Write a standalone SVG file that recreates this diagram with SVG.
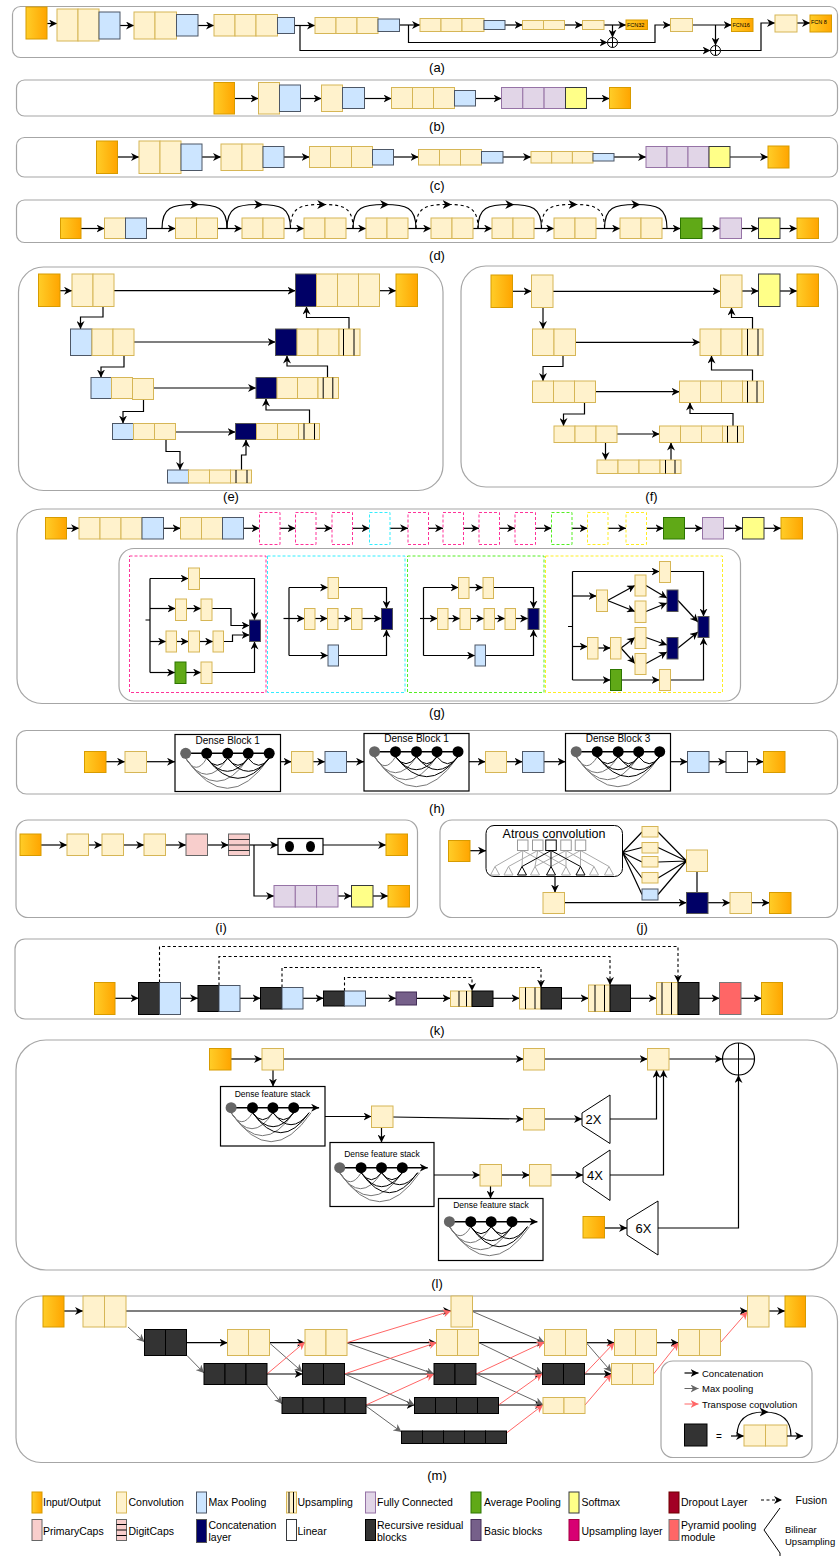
<svg xmlns="http://www.w3.org/2000/svg" xmlns:xlink="http://www.w3.org/1999/xlink" width="839" height="1556" viewBox="0 0 839 1556">
<defs>
<linearGradient id="go" x1="0" y1="0" x2="1" y2="0"><stop offset="0" stop-color="#FFCD28"/><stop offset="1" stop-color="#FFA500"/></linearGradient>
<marker id="ab" viewBox="0 0 10 10" refX="10" refY="5" markerWidth="8" markerHeight="8" markerUnits="userSpaceOnUse" orient="auto"><path d="M0,0L10,5L0,10L3,5Z" fill="#000"/></marker>
<marker id="ag" viewBox="0 0 10 10" refX="10" refY="5" markerWidth="8" markerHeight="8" markerUnits="userSpaceOnUse" orient="auto"><path d="M0,0L10,5L0,10L3,5Z" fill="#666"/></marker>
<marker id="ar" viewBox="0 0 10 10" refX="10" refY="5" markerWidth="8" markerHeight="8" markerUnits="userSpaceOnUse" orient="auto"><path d="M0,0L10,5L0,10L3,5Z" fill="#FF6666"/></marker>
<marker id="am" viewBox="0 0 10 10" refX="5" refY="5" markerWidth="9" markerHeight="9" markerUnits="userSpaceOnUse" orient="auto"><path d="M0,0L10,5L0,10L3,5Z" fill="#000"/></marker>
<style>
.io{fill:url(#go);stroke:#D79B00}
.cv{fill:#FFF2CC;stroke:#D6B656}
.mp{fill:#CCE5FF;stroke:#4D5766}
.fc{fill:#E1D5E7;stroke:#9673A6}
.ap{fill:#60A917;stroke:#2D7600}
.sm{fill:#FFFF88;stroke:#36393D}
.cc{fill:#000066;stroke:#555}
.bk{fill:#333;stroke:#000}
.ln{fill:#fff;stroke:#36393D}
.pc{fill:#F8CECC;stroke:#666}
.bb{fill:#76608A;stroke:#432D57}
.ul{fill:#D80073;stroke:#A50040}
.pp{fill:#FF6666;stroke:#777}
.dr{fill:#A20025;stroke:#6F0000}
.pn{fill:#fff;stroke:#A6A6A6;stroke-width:1.2}
.e{fill:none;stroke:#000;stroke-width:1.2;marker-end:url(#ab)}
.ed{fill:none;stroke:#000;stroke-width:1.1;stroke-dasharray:3,2.5;marker-end:url(#ab)}
.eg{fill:none;stroke:#666;stroke-width:1;marker-end:url(#ag)}
.er{fill:none;stroke:#FF6666;stroke-width:1;marker-end:url(#ar)}
.l{fill:none;stroke:#000;stroke-width:1.2}
.arc{fill:none;stroke:#000;stroke-width:1.2;marker-mid:url(#am)}
.arcd{fill:none;stroke:#000;stroke-width:1.1;stroke-dasharray:3,3;marker-mid:url(#am)}
.up{stroke:#000;stroke-width:1}
.t{font-family:"Liberation Sans",Arial,sans-serif;fill:#000}
.lab{font-family:"Liberation Sans",Arial,sans-serif;font-size:13px;text-anchor:middle;fill:#000}
.lg{font-family:"Liberation Sans",Arial,sans-serif;font-size:10.5px;fill:#000}
.bx{fill:#fff;stroke:#000;stroke-width:1.2}
.dp{fill:#fff;stroke:#FF3399;stroke-dasharray:3,2}
.dcy{fill:#fff;stroke:#33EEFF;stroke-dasharray:3,2}
.dgn{fill:#fff;stroke:#55EE22;stroke-dasharray:3,2}
.dye{fill:#fff;stroke:#FFEE22;stroke-dasharray:3,2}
.ga{fill:none;stroke:#777;stroke-width:1}
.ba{fill:none;stroke:#000;stroke-width:1}
</style>
<g id="dense5">
<path class="ga" d="M0,5Q10.5,23 21,5M0,5Q21,37 42,5M0,5Q31.25,51 62.5,5M0,5Q41.75,65 83.5,5"/>
<path class="ba" d="M21,5Q31.5,19 42,5M42,5Q52.25,19 62.5,5M62.5,5Q73,19 83.5,5M21,5Q41.75,31 62.5,5M42,5Q62.75,31 83.5,5M21,5Q52.25,45 83.5,5"/>
<path d="M0,0H83.5" stroke="#000" stroke-width="1.5"/>
<circle cx="0" cy="0" r="5.5" fill="#666"/><circle cx="21" cy="0" r="5.5"/><circle cx="42" cy="0" r="5.5"/><circle cx="62.5" cy="0" r="5.5"/><circle cx="83.5" cy="0" r="5.5"/>
</g>
<g id="dense4">
<path class="ga" d="M0,5Q10.7,23 21.4,5M0,5Q20.9,37 41.8,5M0,5Q31.3,51 62.6,5M0,5Q40,63 80,5"/>
<path class="ba" d="M21.4,5Q31.6,19 41.8,5M41.8,5Q52.2,19 62.6,5M21.4,5Q42,33 62.6,5M41.8,5Q59.9,29 78,5M21.4,5Q49.7,45 78,5"/>
<path d="M0,0H88" stroke="#000" stroke-width="1.5" marker-end="url(#ab)"/>
<circle cx="0" cy="0" r="5.5" fill="#666"/><circle cx="21.4" cy="0" r="5.5"/><circle cx="41.8" cy="0" r="5.5"/><circle cx="62.6" cy="0" r="5.5"/>
</g>
</defs>
<rect width="839" height="1556" fill="#fff"/>

<!-- (a) -->
<g id="panel-a">
<rect class="pn" x="12.5" y="6.5" width="825" height="51" rx="8"/>
<g id="a-edges">
<path class="e" d="M47,23.5H57"/><path class="e" d="M120,25.5H134"/><path class="e" d="M198,25.5H214"/><path class="e" d="M294.5,25.5H315"/>
<path class="e" d="M300,25.5V50.5H710.5"/><path class="e" d="M399.5,25H420"/><path class="e" d="M408.5,25V42.5H607.5"/>
<path class="e" d="M505,25H522.5"/><path class="e" d="M564.5,25H582.5"/><path class="e" d="M604,25H626"/>
<path class="e" d="M612.5,25V37.5"/><path class="e" d="M617.5,42.5H655V25H670.5"/>
<path class="e" d="M692.5,25H731.5"/><path class="e" d="M715.5,25V45.5"/><path class="e" d="M720.5,50.5H761V23H775"/><path class="e" d="M797,23H810"/>
</g>
<g id="a-in"><rect class="io" x="26" y="7" width="21" height="32"/></g>
<g id="a-c1"><rect class="cv" x="57" y="9" width="21" height="32"/><rect class="cv" x="78" y="9" width="21" height="32"/></g>
<g id="a-p1"><rect class="mp" x="99" y="12" width="21" height="27"/></g>
<g id="a-c2"><rect class="cv" x="134" y="12" width="21" height="27"/><rect class="cv" x="155" y="12" width="21.5" height="27"/></g>
<g id="a-p2"><rect class="mp" x="176.5" y="14.5" width="21.5" height="21.5"/></g>
<g id="a-c3"><rect class="cv" x="214" y="14.5" width="21" height="21.5"/><rect class="cv" x="235" y="14.5" width="21" height="21.5"/><rect class="cv" x="256" y="14.5" width="21.5" height="21.5"/></g>
<g id="a-p3"><rect class="mp" x="277.5" y="17.5" width="17" height="16"/></g>
<g id="a-c4"><rect class="cv" x="315" y="17.5" width="21" height="16"/><rect class="cv" x="336" y="17.5" width="21" height="16"/><rect class="cv" x="357" y="17.5" width="21" height="16"/></g>
<g id="a-p4"><rect class="mp" x="378" y="19" width="21.5" height="12.5"/></g>
<g id="a-c5"><rect class="cv" x="420" y="18.5" width="21" height="13"/><rect class="cv" x="441" y="18.5" width="21" height="13"/><rect class="cv" x="462" y="18.5" width="22" height="13"/></g>
<g id="a-p5"><rect class="mp" x="484" y="20.5" width="21" height="9"/></g>
<g id="a-c6"><rect class="cv" x="522.5" y="20.5" width="21" height="9"/><rect class="cv" x="543.5" y="20.5" width="21" height="9"/></g>
<g id="a-c7"><rect class="cv" x="582.5" y="20.5" width="21.5" height="9"/></g>
<g id="a-sum1"><circle cx="612.5" cy="42.5" r="5" fill="#fff" stroke="#000"/><path d="M607.5,42.5H617.5M612.5,37.5V47.5" stroke="#000"/></g>
<g id="a-f32"><rect class="io" x="626" y="20" width="21.5" height="9.5"/><text class="t" x="627" y="27" font-size="5.5">FCN32</text></g>
<g id="a-c8"><rect class="cv" x="670.5" y="18.5" width="22" height="13"/></g>
<g id="a-sum2"><circle cx="715.5" cy="50.5" r="5" fill="#fff" stroke="#000"/><path d="M710.5,50.5H720.5M715.5,45.5V55.5" stroke="#000"/></g>
<g id="a-f16"><rect class="io" x="731.5" y="18.5" width="21.5" height="13"/><text class="t" x="732.5" y="27" font-size="5.5">FCN16</text></g>
<g id="a-c9"><rect class="cv" x="775" y="15" width="22" height="17"/></g>
<g id="a-f8"><rect class="io" x="810" y="15" width="21.5" height="17"/><text class="t" x="811" y="23.5" font-size="5.5">FCN 8</text></g>
<text class="lab" x="437" y="72">(a)</text>
</g>

<!-- (b) -->
<g id="panel-b">
<rect class="pn" x="16.5" y="80" width="821" height="36" rx="8"/>
<g id="b-edges">
<path class="e" d="M234.5,98.5H258.5"/><path class="e" d="M300.5,98.5H321.5"/><path class="e" d="M364.5,98.5H391.5"/><path class="e" d="M475.5,98.5H501.5"/><path class="e" d="M586.5,98.5H609.5"/>
</g>
<g id="b-in"><rect class="io" x="214" y="82.5" width="20.5" height="31.5"/></g>
<g id="b-c1"><rect class="cv" x="258.5" y="82.5" width="21" height="31.5"/></g>
<g id="b-p1"><rect class="mp" x="279.5" y="85" width="21" height="26.5"/></g>
<g id="b-c2"><rect class="cv" x="321.5" y="85" width="21" height="26.5"/></g>
<g id="b-p2"><rect class="mp" x="342.5" y="87.5" width="22" height="21"/></g>
<g id="b-c3"><rect class="cv" x="391.5" y="87.5" width="21" height="21"/><rect class="cv" x="412.5" y="87.5" width="21" height="21"/><rect class="cv" x="433.5" y="87.5" width="21" height="21"/></g>
<g id="b-p3"><rect class="mp" x="454.5" y="90.5" width="21" height="15.5"/></g>
<g id="b-fc"><rect class="fc" x="501.5" y="87.5" width="21.3" height="21"/><rect class="fc" x="522.8" y="87.5" width="21.3" height="21"/><rect class="fc" x="544.1" y="87.5" width="21.4" height="21"/></g>
<g id="b-sm"><rect class="sm" x="565.5" y="87.5" width="21" height="21"/></g>
<g id="b-out"><rect class="io" x="609.5" y="87.5" width="21" height="21"/></g>
<text class="lab" x="437" y="131">(b)</text>
</g>

<!-- (c) -->
<g id="panel-c">
<rect class="pn" x="16.5" y="137.5" width="821" height="39.5" rx="8"/>
<g id="c-edges">
<path class="e" d="M117.5,157H139"/><path class="e" d="M202,157H221"/><path class="e" d="M284,157H309.5"/><path class="e" d="M393.5,157H418.5"/><path class="e" d="M503,157H531"/><path class="e" d="M614,157H646"/><path class="e" d="M730,157H768"/>
</g>
<g id="c-in"><rect class="io" x="96.5" y="141" width="21" height="32.5"/></g>
<g id="c-c1"><rect class="cv" x="139" y="141" width="21" height="32.5"/><rect class="cv" x="160" y="141" width="21" height="32.5"/></g>
<g id="c-p1"><rect class="mp" x="181" y="144" width="21" height="26.5"/></g>
<g id="c-c2"><rect class="cv" x="221" y="144" width="21" height="26.5"/><rect class="cv" x="242" y="144" width="21" height="26.5"/></g>
<g id="c-p2"><rect class="mp" x="263" y="146.5" width="21" height="21"/></g>
<g id="c-c3"><rect class="cv" x="309.5" y="146.5" width="21" height="21"/><rect class="cv" x="330.5" y="146.5" width="21" height="21"/><rect class="cv" x="351.5" y="146.5" width="21" height="21"/></g>
<g id="c-p3"><rect class="mp" x="372.5" y="149.5" width="21" height="15.5"/></g>
<g id="c-c4"><rect class="cv" x="418.5" y="149.5" width="21" height="15.5"/><rect class="cv" x="439.5" y="149.5" width="21" height="15.5"/><rect class="cv" x="460.5" y="149.5" width="21" height="15.5"/></g>
<g id="c-p4"><rect class="mp" x="481.5" y="151.5" width="21.5" height="11.5"/></g>
<g id="c-c5"><rect class="cv" x="531" y="151.5" width="20.7" height="11.5"/><rect class="cv" x="551.7" y="151.5" width="20.7" height="11.5"/><rect class="cv" x="572.4" y="151.5" width="20.6" height="11.5"/></g>
<g id="c-p5"><rect class="mp" x="593" y="153.5" width="21" height="7.5"/></g>
<g id="c-fc"><rect class="fc" x="646" y="146.5" width="21" height="21"/><rect class="fc" x="667" y="146.5" width="21" height="21"/><rect class="fc" x="688" y="146.5" width="21" height="21"/></g>
<g id="c-sm"><rect class="sm" x="709" y="146.5" width="21" height="21"/></g>
<g id="c-out"><rect class="io" x="768" y="146" width="21" height="22"/></g>
<text class="lab" x="437" y="190">(c)</text>
</g>

<!-- (d) -->
<g id="panel-d">
<rect class="pn" x="16.5" y="200" width="821" height="42.5" rx="8"/>
<g id="d-edges">
<path class="e" d="M81,228.5H104.5"/><path class="e" d="M146.5,228.5H175.5"/><path class="e" d="M217.5,228.5H242"/><path class="e" d="M284,228.5H304"/><path class="e" d="M346,228.5H366"/><path class="e" d="M408,228.5H431"/><path class="e" d="M473,228.5H492"/><path class="e" d="M534,228.5H554"/><path class="e" d="M596,228.5H620"/><path class="e" d="M662,228.5H680.5"/><path class="e" d="M702,228.5H720"/><path class="e" d="M741.5,228.5H758.5"/><path class="e" d="M780,228.5H797"/>
<path class="arc" d="M162,228.5C162,207 172,204.5 194.5,204.5C217,204.5 227,207 227,228.5"/>
<path class="arc" d="M227,228.5C227,207 237,204.5 258.75,204.5C280.5,204.5 290.5,207 290.5,228.5"/>
<path class="arcd" d="M290.5,228.5C290.5,207 300.5,204.5 321.75,204.5C343,204.5 353,207 353,228.5"/>
<path class="arc" d="M353,228.5C353,207 363,204.5 384.5,204.5C406,204.5 416,207 416,228.5"/>
<path class="arcd" d="M416,228.5C416,207 426,204.5 447,204.5C468,204.5 478,207 478,228.5"/>
<path class="arc" d="M478,228.5C478,207 488,204.5 509.75,204.5C531.5,204.5 541.5,207 541.5,228.5"/>
<path class="arcd" d="M541.5,228.5C541.5,207 551.5,204.5 573,204.5C594.5,204.5 604.5,207 604.5,228.5"/>
<path class="arc" d="M604.5,228.5C604.5,207 614.5,204.5 635.75,204.5C657,204.5 667,207 667,228.5"/>
</g>
<g id="d-in"><rect class="io" x="60.5" y="218" width="20.5" height="20.5"/></g>
<g id="d-c0"><rect class="cv" x="104.5" y="218" width="21" height="20.5"/></g>
<g id="d-p0"><rect class="mp" x="125.5" y="218" width="21" height="20.5"/></g>
<g id="d-b1"><rect class="cv" x="175.5" y="218" width="21" height="20.5"/><rect class="cv" x="196.5" y="218" width="21" height="20.5"/></g>
<g id="d-b2"><rect class="cv" x="242" y="218" width="21" height="20.5"/><rect class="cv" x="263" y="218" width="21" height="20.5"/></g>
<g id="d-b3"><rect class="cv" x="304" y="218" width="21" height="20.5"/><rect class="cv" x="325" y="218" width="21" height="20.5"/></g>
<g id="d-b4"><rect class="cv" x="366" y="218" width="21" height="20.5"/><rect class="cv" x="387" y="218" width="21" height="20.5"/></g>
<g id="d-b5"><rect class="cv" x="431" y="218" width="21" height="20.5"/><rect class="cv" x="452" y="218" width="21" height="20.5"/></g>
<g id="d-b6"><rect class="cv" x="492" y="218" width="21" height="20.5"/><rect class="cv" x="513" y="218" width="21" height="20.5"/></g>
<g id="d-b7"><rect class="cv" x="554" y="218" width="21" height="20.5"/><rect class="cv" x="575" y="218" width="21" height="20.5"/></g>
<g id="d-b8"><rect class="cv" x="620" y="218" width="21" height="20.5"/><rect class="cv" x="641" y="218" width="21" height="20.5"/></g>
<g id="d-ap"><rect class="ap" x="680.5" y="218" width="21.5" height="20.5"/></g>
<g id="d-fc"><rect class="fc" x="720" y="218" width="21.5" height="20.5"/></g>
<g id="d-sm"><rect class="sm" x="758.5" y="218" width="21.5" height="20.5"/></g>
<g id="d-out"><rect class="io" x="797" y="218" width="21.5" height="20.5"/></g>
<text class="lab" x="437" y="260">(d)</text>
</g>

<!-- (e) -->
<g id="panel-e">
<rect class="pn" x="18.5" y="267" width="424.5" height="223.5" rx="25"/>
<g id="e-edges">
<path class="e" d="M60,290.7H72"/><path class="e" d="M114,290.7H295.5"/><path class="e" d="M379.5,290.7H396"/>
<path class="e" d="M103,306.5V317H80.5V329"/><path class="e" d="M134,342H275.5"/><path class="e" d="M349,329V317.5H306.5V306.5"/>
<path class="e" d="M124,355.5V367H101V377.5"/><path class="e" d="M153.5,388H256"/><path class="e" d="M327.5,377.5V366H287V355.5"/>
<path class="e" d="M143.5,398.5V411.5H123V423.5"/><path class="e" d="M175.5,432H235.5"/><path class="e" d="M309.5,423.5V410H266V398.5"/>
<path class="e" d="M166,439.5V451.5H180V470"/><path class="e" d="M241.5,470V455H246V439.5"/>
</g>
<g id="e-in"><rect class="io" x="38.5" y="274" width="21.5" height="32.5"/></g>
<g id="e-c1"><rect class="cv" x="72" y="274" width="21" height="32.5"/><rect class="cv" x="93" y="274" width="21" height="32.5"/></g>
<g id="e-cc1"><rect class="cc" x="295.5" y="274" width="21" height="32.5"/></g>
<g id="e-d1"><rect class="cv" x="316.5" y="274" width="21" height="32.5"/><rect class="cv" x="337.5" y="274" width="21" height="32.5"/><rect class="cv" x="358.5" y="274" width="21" height="32.5"/></g>
<g id="e-out"><rect class="io" x="396" y="274" width="21.5" height="32.5"/></g>
<g id="e-p2"><rect class="mp" x="70.5" y="329" width="21.5" height="26.5"/></g>
<g id="e-c2"><rect class="cv" x="92" y="329" width="21" height="26.5"/><rect class="cv" x="113" y="329" width="21" height="26.5"/></g>
<g id="e-cc2"><rect class="cc" x="275.5" y="329" width="21.5" height="26.5"/></g>
<g id="e-u2"><rect class="cv" x="297" y="329" width="21" height="26.5"/><rect class="cv" x="318" y="329" width="21" height="26.5"/><rect class="cv" x="339" y="329" width="21" height="26.5"/><path class="up" d="M343.5,329V355.5M354,329V355.5"/></g>
<g id="e-p3"><rect class="mp" x="91" y="377.5" width="20.5" height="21"/></g>
<g id="e-c3"><rect class="cv" x="111.5" y="377.5" width="21" height="21"/><rect class="cv" x="132.5" y="378.5" width="21" height="21"/></g>
<g id="e-cc3"><rect class="cc" x="256" y="377.5" width="21" height="21"/></g>
<g id="e-u3"><rect class="cv" x="277" y="377.5" width="20.5" height="21"/><rect class="cv" x="297.5" y="377.5" width="20.5" height="21"/><rect class="cv" x="318" y="377.5" width="20.5" height="21"/><path class="up" d="M323.2,377.5V398.5M332.8,377.5V398.5"/></g>
<g id="e-p4"><rect class="mp" x="112.5" y="423.5" width="21" height="16"/></g>
<g id="e-c4"><rect class="cv" x="133.5" y="423.5" width="21" height="16"/><rect class="cv" x="154.5" y="423.5" width="21" height="16"/></g>
<g id="e-cc4"><rect class="cc" x="235.5" y="423.5" width="21" height="16"/></g>
<g id="e-u4"><rect class="cv" x="256.5" y="423.5" width="21" height="16"/><rect class="cv" x="277.5" y="423.5" width="21" height="16"/><rect class="cv" x="298.5" y="423.5" width="21" height="16"/><path class="up" d="M304,423.5V439.5M314.5,423.5V439.5"/></g>
<g id="e-p5"><rect class="mp" x="167.5" y="470" width="21" height="13"/></g>
<g id="e-u5"><rect class="cv" x="188.5" y="470" width="21" height="13"/><rect class="cv" x="209.5" y="470" width="21" height="13"/><rect class="cv" x="230.5" y="470" width="21" height="13"/><path class="up" d="M236,470V483M247,470V483"/></g>
<text class="lab" x="231" y="501">(e)</text>
</g>

<!-- (f) -->
<g id="panel-f">
<rect class="pn" x="461" y="266" width="376.5" height="221" rx="25"/>
<g id="f-edges">
<path class="e" d="M512.5,291.3H531.5"/><path class="e" d="M553,291.3H720.5"/><path class="e" d="M742,291H758.5"/><path class="e" d="M780,291H797"/>
<path class="e" d="M543,307.5V329"/><path class="e" d="M575.5,342.3H700"/><path class="e" d="M752.5,329V317.5H731.5V307.5"/>
<path class="e" d="M563,355.5V366.5H543V381"/><path class="e" d="M595.5,391.7H679.5"/><path class="e" d="M752.5,381V370H711.5V355.5"/>
<path class="e" d="M584.5,402.5V414H563.5V426"/><path class="e" d="M617,434H659.5"/><path class="e" d="M733,426V413.5H690V402.5"/>
<path class="e" d="M605.5,442.5V460"/><path class="e" d="M671,460V442.5"/>
</g>
<g id="f-in"><rect class="io" x="491" y="275" width="21.5" height="32.5"/></g>
<g id="f-c1"><rect class="cv" x="531.5" y="275" width="21.5" height="32.5"/></g>
<g id="f-d1"><rect class="cv" x="720.5" y="275" width="21.5" height="32.5"/></g>
<g id="f-sm"><rect class="sm" x="758.5" y="274" width="21.5" height="32.5"/></g>
<g id="f-out"><rect class="io" x="797" y="274" width="21.5" height="32.5"/></g>
<g id="f-c2"><rect class="cv" x="532.5" y="329" width="21.5" height="26.5"/><rect class="cv" x="554" y="329" width="21.5" height="26.5"/></g>
<g id="f-u2"><rect class="cv" x="700" y="329" width="21" height="26.5"/><rect class="cv" x="721" y="329" width="21" height="26.5"/><rect class="cv" x="742" y="329" width="21" height="26.5"/><path class="up" d="M747.5,329V355.5M758,329V355.5"/></g>
<g id="f-c3"><rect class="cv" x="532.5" y="381" width="21" height="21.5"/><rect class="cv" x="553.5" y="381" width="21" height="21.5"/><rect class="cv" x="574.5" y="381" width="21" height="21.5"/></g>
<g id="f-u3"><rect class="cv" x="679.5" y="381" width="21" height="21.5"/><rect class="cv" x="700.5" y="381" width="21" height="21.5"/><rect class="cv" x="721.5" y="381" width="21" height="21.5"/><rect class="cv" x="742.5" y="381" width="21" height="21.5"/><path class="up" d="M747.5,381V402.5M757,381V402.5"/></g>
<g id="f-c4"><rect class="cv" x="554" y="426" width="21" height="16.5"/><rect class="cv" x="575" y="426" width="21" height="16.5"/><rect class="cv" x="596" y="426" width="21" height="16.5"/></g>
<g id="f-u4"><rect class="cv" x="659.5" y="426" width="21" height="16.5"/><rect class="cv" x="680.5" y="426" width="21" height="16.5"/><rect class="cv" x="701.5" y="426" width="21" height="16.5"/><rect class="cv" x="722.5" y="426" width="21" height="16.5"/><path class="up" d="M727.5,426V442.5M737.5,426V442.5"/></g>
<g id="f-u5"><rect class="cv" x="597" y="460" width="21" height="13.5"/><rect class="cv" x="618" y="460" width="21" height="13.5"/><rect class="cv" x="639" y="460" width="21" height="13.5"/><rect class="cv" x="660" y="460" width="21" height="13.5"/><path class="up" d="M665.5,460V473.5M675,460V473.5"/></g>
<text class="lab" x="651.5" y="501">(f)</text>
</g>

<!-- (g) -->
<g id="panel-g">
<rect class="pn" x="17" y="509" width="820.5" height="194.5" rx="25"/>
<g id="g-edges">
<path class="e" d="M66.5,528.3H79"/><path class="e" d="M163.5,528.3H180.5"/><path class="e" d="M243.5,528.3H259.5"/><path class="e" d="M280,528.3H295.5"/><path class="e" d="M316,528.3H332"/><path class="e" d="M352.5,528.3H369.5"/><path class="e" d="M390,528.3H408"/><path class="e" d="M428.5,528.3H443"/><path class="e" d="M463.5,528.3H479"/><path class="e" d="M499.5,528.3H515"/><path class="e" d="M535.5,528.3H551.5"/><path class="e" d="M572,528.3H587.5"/><path class="e" d="M608,528.3H626"/><path class="e" d="M646.5,528.3H663.5"/><path class="e" d="M684.5,528.3H702.5"/><path class="e" d="M723.5,528.3H742.5"/><path class="e" d="M764,528.3H781"/>
</g>
<g id="g-in"><rect class="io" x="45.5" y="517.5" width="21" height="21.5"/></g>
<g id="g-c1"><rect class="cv" x="79" y="517.5" width="21" height="21.5"/><rect class="cv" x="100" y="517.5" width="21" height="21.5"/><rect class="cv" x="121" y="517.5" width="21" height="21.5"/></g>
<g id="g-p1"><rect class="mp" x="142" y="517.5" width="21.5" height="21.5"/></g>
<g id="g-c2"><rect class="cv" x="180.5" y="517.5" width="21" height="21.5"/><rect class="cv" x="201.5" y="517.5" width="21" height="21.5"/></g>
<g id="g-p2"><rect class="mp" x="222.5" y="517.5" width="21" height="21.5"/></g>
<g id="g-m1"><rect class="dp" x="259.5" y="512.5" width="20.5" height="32"/></g>
<g id="g-m2"><rect class="dp" x="295.5" y="512.5" width="20.5" height="32"/></g>
<g id="g-m3"><rect class="dp" x="332" y="512.5" width="20.5" height="32"/></g>
<g id="g-m4"><rect class="dcy" x="369.5" y="512.5" width="20.5" height="32"/></g>
<g id="g-m5"><rect class="dp" x="408" y="512.5" width="20.5" height="32"/></g>
<g id="g-m6"><rect class="dp" x="443" y="512.5" width="20.5" height="32"/></g>
<g id="g-m7"><rect class="dp" x="479" y="512.5" width="20.5" height="32"/></g>
<g id="g-m8"><rect class="dp" x="515" y="512.5" width="20.5" height="32"/></g>
<g id="g-m9"><rect class="dgn" x="551.5" y="512.5" width="20.5" height="32"/></g>
<g id="g-m10"><rect class="dye" x="587.5" y="512.5" width="20.5" height="32"/></g>
<g id="g-m11"><rect class="dye" x="626" y="512.5" width="20.5" height="32"/></g>
<g id="g-ap"><rect class="ap" x="663.5" y="517.5" width="21" height="21.5"/></g>
<g id="g-fc"><rect class="fc" x="702.5" y="517.5" width="21" height="21.5"/></g>
<g id="g-sm"><rect class="sm" x="742.5" y="517.5" width="21.5" height="21.5"/></g>
<g id="g-out"><rect class="io" x="781" y="517.5" width="21.5" height="21.5"/></g>
<g id="g-inner">
<rect class="pn" x="119" y="548.5" width="621.5" height="152.5" rx="15"/>
<rect class="dp" x="129.5" y="556" width="136.5" height="136.5"/>
<rect class="dcy" x="267.5" y="556" width="137.5" height="136.5"/>
<rect class="dgn" x="407.5" y="556" width="136.5" height="136.5"/>
<rect class="dye" x="545.5" y="556" width="177" height="136.5"/>
</g>
<g id="g-blk-edges">
<path class="l" d="M145.5,620H150M150,578.5V672.5"/>
<path class="e" d="M150,578.5H188.5"/><path class="e" d="M199.5,578.5H254.5V620"/>
<path class="e" d="M150,608.5H175.5"/><path class="e" d="M186.5,608.5H201"/><path class="e" d="M212,608.5H231V625.5H249.5"/>
<path class="e" d="M150,641.5H166"/><path class="e" d="M176.5,641.5H188.5"/><path class="e" d="M199.5,641.5H213"/><path class="e" d="M223.5,641.5H232.5V635H249.5"/>
<path class="e" d="M150,672.5H175"/><path class="e" d="M186,672.5H201"/><path class="e" d="M212,672.5H254.5V641.5"/>
<path class="l" d="M289,587.5V655.5"/>
<path class="e" d="M283.5,618.5H304.5"/><path class="e" d="M315,618.5H327.5"/><path class="e" d="M338,618.5H351.5"/><path class="e" d="M362,618.5H381.5"/>
<path class="e" d="M289,587.5H328"/><path class="e" d="M338.5,587.5H386.5V608.5"/>
<path class="e" d="M289,655.5H328"/><path class="e" d="M338.5,655.5H386.5V629.5"/>
<path class="l" d="M423.5,587.5V655.5"/>
<path class="e" d="M420,618.5H437.5"/><path class="e" d="M448,618.5H460"/><path class="e" d="M470.5,618.5H484"/><path class="e" d="M494.5,618.5H505"/><path class="e" d="M515.5,618.5H528"/>
<path class="e" d="M423.5,587.5H458.5"/><path class="e" d="M469,587.5H483"/><path class="e" d="M493.5,587.5H533.5V608.5"/>
<path class="e" d="M423.5,655.5H475"/><path class="e" d="M485.5,655.5H533.5V629.5"/>
<path class="l" d="M568,626.5H572.5M572.5,571.5V680"/>
<path class="e" d="M572.5,571.5H659.5"/><path class="e" d="M670.5,571.5H703.5V616.5"/>
<path class="e" d="M572.5,596H596.5"/><path class="e" d="M607.5,600.5L635,585.5"/><path class="e" d="M607.5,600.5L635,611.5"/><path class="e" d="M646,585.5L667,598"/><path class="e" d="M646,611.5L667,603"/>
<path class="e" d="M572.5,646.5H587.5"/><path class="e" d="M598,648H610.5"/><path class="e" d="M621,648L635,637.5"/><path class="e" d="M621,648L635,663.5"/><path class="e" d="M646,637.5L667,645"/><path class="e" d="M646,663.5L667,652"/>
<path class="e" d="M678,600.5L698,622"/><path class="e" d="M678,648L698,632"/>
<path class="e" d="M572.5,680H610.5"/><path class="e" d="M621.5,680H659.5"/><path class="e" d="M670.5,680H703.5V637.5"/>
</g>
<g id="g-inc1">
<rect class="cv" x="188.5" y="568" width="11" height="21.5"/>
<rect class="cv" x="175.5" y="599" width="11" height="21.5"/><rect class="cv" x="201" y="599" width="11" height="21.5"/>
<rect class="cv" x="166" y="631" width="10.5" height="21"/><rect class="cv" x="188.5" y="631" width="11" height="21"/><rect class="cv" x="213" y="631" width="10.5" height="21"/>
<rect class="ap" x="175" y="662" width="11" height="21.5"/><rect class="cv" x="201" y="662" width="11" height="21.5"/>
<rect class="cc" x="249.5" y="620" width="11" height="21.5"/>
</g>
<g id="g-inc2">
<rect class="cv" x="328" y="577.5" width="10.5" height="21"/>
<rect class="cv" x="304.5" y="608.5" width="10.5" height="21"/><rect class="cv" x="327.5" y="608.5" width="10.5" height="21"/><rect class="cv" x="351.5" y="608.5" width="10.5" height="21"/>
<rect class="mp" x="328" y="645" width="10.5" height="21"/>
<rect class="cc" x="381.5" y="608.5" width="11" height="21"/>
</g>
<g id="g-inc3">
<rect class="cv" x="458.5" y="577.5" width="10.5" height="21"/><rect class="cv" x="483" y="577.5" width="10.5" height="21"/>
<rect class="cv" x="437.5" y="608.5" width="10.5" height="21"/><rect class="cv" x="460" y="608.5" width="10.5" height="21"/><rect class="cv" x="484" y="608.5" width="10.5" height="21"/><rect class="cv" x="505" y="608.5" width="10.5" height="21"/>
<rect class="mp" x="475" y="645" width="10.5" height="21"/>
<rect class="cc" x="528" y="608.5" width="11" height="21"/>
</g>
<g id="g-inc4">
<rect class="cv" x="659.5" y="561.5" width="11" height="21"/>
<rect class="cv" x="596.5" y="590" width="11" height="21.5"/>
<rect class="cv" x="635" y="575" width="11" height="21"/><rect class="cv" x="635" y="601" width="11" height="21.5"/>
<rect class="cc" x="667" y="590" width="11" height="21.5"/>
<rect class="cv" x="587.5" y="637.5" width="10.5" height="21.5"/><rect class="cv" x="610.5" y="637.5" width="10.5" height="21.5"/>
<rect class="cv" x="635" y="627.5" width="11" height="21"/><rect class="cv" x="635" y="653.5" width="11" height="21"/>
<rect class="cc" x="667" y="637.5" width="11" height="21.5"/>
<rect class="cc" x="698" y="616.5" width="11" height="21"/>
<rect class="ap" x="610.5" y="669.5" width="11" height="21"/><rect class="cv" x="659.5" y="669.5" width="11" height="21"/>
</g>
<text class="lab" x="437" y="717">(g)</text>
</g>

<!-- (h) -->
<g id="panel-h">
<rect class="pn" x="16.5" y="730.5" width="821" height="63.5" rx="10"/>
<g id="h-edges">
<path class="e" d="M106,761.7H125"/><path class="e" d="M146.5,761.7H175"/><path class="e" d="M280.5,761.7H291.5"/><path class="e" d="M313,761.7H325"/><path class="e" d="M346.5,761.7H364"/><path class="e" d="M469,761.7H485.5"/><path class="e" d="M506.5,761.7H522.5"/><path class="e" d="M544,761.7H565.5"/><path class="e" d="M670.5,761.7H687.5"/><path class="e" d="M709,761.7H726"/><path class="e" d="M747.5,761.7H763.5"/>
</g>
<g id="h-in"><rect class="io" x="84.5" y="751.5" width="21.5" height="21"/></g>
<g id="h-c1"><rect class="cv" x="125" y="751.5" width="21.5" height="21"/></g>
<g id="h-db1"><rect class="bx" x="175" y="734.5" width="105.5" height="57"/><text class="t" x="227.7" y="744" font-size="10" text-anchor="middle">Dense Block 1</text><use href="#dense5" x="185.7" y="753.3"/></g>
<g id="h-c2"><rect class="cv" x="291.5" y="751.5" width="21.5" height="21"/></g>
<g id="h-p2"><rect class="mp" x="325" y="751.5" width="21.5" height="21"/></g>
<g id="h-db2"><rect class="bx" x="364" y="733.5" width="105" height="57.5"/><text class="t" x="416.5" y="742" font-size="10" text-anchor="middle">Dense Block 1</text><use href="#dense5" x="374.5" y="751.7"/></g>
<g id="h-c3"><rect class="cv" x="485.5" y="751.5" width="21" height="21"/></g>
<g id="h-p3"><rect class="mp" x="522.5" y="751.5" width="21.5" height="21"/></g>
<g id="h-db3"><rect class="bx" x="565.5" y="733.5" width="105" height="57.5"/><text class="t" x="618" y="742" font-size="10" text-anchor="middle">Dense Block 3</text><use href="#dense5" x="576.2" y="751.7"/></g>
<g id="h-p4"><rect class="mp" x="687.5" y="751.5" width="21.5" height="21"/></g>
<g id="h-ln"><rect class="ln" x="726" y="751.5" width="21.5" height="21"/></g>
<g id="h-out"><rect class="io" x="763.5" y="751.5" width="21.5" height="21"/></g>
<text class="lab" x="437" y="812.5">(h)</text>
</g>

<!-- (i) -->
<g id="panel-i">
<rect class="pn" x="16" y="820" width="401.5" height="97.5" rx="12"/>
<g id="i-edges">
<path class="e" d="M41,845H67"/><path class="e" d="M88.5,845H102"/><path class="e" d="M123.5,845H144"/><path class="e" d="M165.5,845H186"/><path class="e" d="M207.5,845H228.5"/><path class="e" d="M249.5,845H278"/><path class="e" d="M323,845H386"/>
<path class="e" d="M254,845V896H274"/><path class="e" d="M338,896H351.5"/><path class="e" d="M373,896H388"/>
</g>
<g id="i-in"><rect class="io" x="20" y="834" width="21" height="21.5"/></g>
<g id="i-c1"><rect class="cv" x="67" y="834" width="21.5" height="21.5"/></g>
<g id="i-c2"><rect class="cv" x="102" y="834" width="21.5" height="21.5"/></g>
<g id="i-c3"><rect class="cv" x="144" y="834" width="21.5" height="21.5"/></g>
<g id="i-pc"><rect class="pc" x="186" y="834" width="21.5" height="21.5"/></g>
<g id="i-dc"><rect class="pc" x="228.5" y="834" width="21" height="21.5"/><path d="M228.5,839.5H249.5M228.5,845H249.5M228.5,850.5H249.5" stroke="#333" stroke-width="1"/></g>
<g id="i-cap"><rect class="bx" x="278" y="838.5" width="45" height="16"/><ellipse cx="289.5" cy="846.5" rx="4.5" ry="5.5"/><ellipse cx="310.5" cy="846.5" rx="4.5" ry="5.5"/></g>
<g id="i-out1"><rect class="io" x="386" y="834" width="21.5" height="21.5"/></g>
<g id="i-fc"><rect class="fc" x="274" y="885.5" width="21.3" height="21.5"/><rect class="fc" x="295.3" y="885.5" width="21.3" height="21.5"/><rect class="fc" x="316.6" y="885.5" width="21.4" height="21.5"/></g>
<g id="i-sm"><rect class="sm" x="351.5" y="885.5" width="21.5" height="21.5"/></g>
<g id="i-out2"><rect class="io" x="388" y="885.5" width="21.5" height="21.5"/></g>
<text class="lab" x="221" y="932">(i)</text>
</g>

<!-- (j) -->
<g id="panel-j">
<rect class="pn" x="440" y="820" width="397.5" height="97.5" rx="12"/>
<g id="j-edges">
<path class="e" d="M470,850.7H486"/><path class="e" d="M555,876.5V892.5"/><path class="e" d="M564.5,902.7H686.5"/><path class="e" d="M708,902.7H730"/><path class="e" d="M751.5,902.7H769.5"/>
<path class="l" d="M622.5,852.5L642,832M622.5,852.5L642,847.5M622.5,852.5L642,862M622.5,852.5L642,878M622.5,852.5L642,894.5"/>
<path class="l" d="M658,832L686.5,861M658,847.5L686.5,861M658,862L686.5,861M658,878L686.5,861M658,894.5L686.5,861"/>
<path class="l" d="M697,871.5V892.5"/>
</g>
<g id="j-in"><rect class="io" x="448.5" y="840.5" width="21.5" height="21"/></g>
<g id="j-atrous">
<rect class="bx" x="486" y="825.5" width="136.5" height="51" rx="8" style="stroke-width:1"/>
<text class="t" x="554" y="838" font-size="12.5" text-anchor="middle">Atrous convolution</text>
<path d="M522.75,850.5L495,866.5M522.75,850.5L522,866.5M522.75,850.5L551,866.5M537.75,850.5L508.5,866.5M537.75,850.5L535,866.5M537.75,850.5L566,866.5M566,850.5L535,866.5M566,850.5L566,866.5M566,850.5L594,866.5M580.5,850.5L551,866.5M580.5,850.5L580.5,866.5M580.5,850.5L609,866.5" stroke="#AAA" stroke-width="1" fill="none"/>
<path d="M551,850.5L522,866.5M551,850.5L551,866.5M551,850.5L580.5,866.5" stroke="#000" stroke-width="1" fill="none"/>
<rect x="517.5" y="840" width="10.5" height="10.5" fill="#fff" stroke="#999"/><rect x="532.5" y="840" width="10.5" height="10.5" fill="#fff" stroke="#999"/><rect x="545.75" y="840" width="10.5" height="10.5" fill="#fff" stroke="#000"/><rect x="560.75" y="840" width="10.5" height="10.5" fill="#fff" stroke="#999"/><rect x="575.25" y="840" width="10.5" height="10.5" fill="#fff" stroke="#999"/>
<g fill="#fff" stroke="#AAA"><path d="M490.5,875L495,866.5L499.5,875Z"/><path d="M504,875L508.5,866.5L513,875Z"/><path d="M530.5,875L535,866.5L539.5,875Z"/><path d="M561.5,875L566,866.5L570.5,875Z"/><path d="M589.5,875L594,866.5L598.5,875Z"/><path d="M604.5,875L609,866.5L613.5,875Z"/></g>
<g fill="#fff" stroke="#000"><path d="M517.5,875L522,866.5L526.5,875Z"/><path d="M546.5,875L551,866.5L555.5,875Z"/><path d="M576,875L580.5,866.5L585,875Z"/></g>
</g>
<g id="j-s1"><rect class="cv" x="642" y="826.5" width="16" height="10.5"/></g>
<g id="j-s2"><rect class="cv" x="642" y="842.5" width="16" height="10.5"/></g>
<g id="j-s3"><rect class="cv" x="642" y="856.5" width="16" height="10.5"/></g>
<g id="j-s4"><rect class="cv" x="642" y="872.5" width="16" height="10.5"/></g>
<g id="j-s5"><rect class="mp" x="642" y="889" width="16" height="11"/></g>
<g id="j-c2"><rect class="cv" x="686.5" y="850" width="21" height="21.5"/></g>
<g id="j-c1"><rect class="cv" x="543" y="892.5" width="21.5" height="21"/></g>
<g id="j-cc"><rect class="cc" x="686.5" y="892.5" width="21.5" height="21"/></g>
<g id="j-c3"><rect class="cv" x="730" y="892.5" width="21.5" height="21"/></g>
<g id="j-out"><rect class="io" x="769.5" y="892.5" width="21.5" height="21"/></g>
<text class="lab" x="642" y="932">(j)</text>
</g>

<!-- (k) -->
<g id="panel-k">
<rect class="pn" x="15" y="939" width="822.5" height="80" rx="10"/>
<g id="k-edges">
<path class="e" d="M115,998.3H138.5"/><path class="e" d="M180.5,998.3H198"/><path class="e" d="M240,998.3H260.5"/><path class="e" d="M303,998.3H323.5"/><path class="e" d="M365.5,998.3H396"/><path class="e" d="M416.5,998.3H450.5"/><path class="e" d="M493,998.3H519.5"/><path class="e" d="M561.5,998.3H588.5"/><path class="e" d="M630.5,998.3H656.5"/><path class="e" d="M699,998.3H719.5"/><path class="e" d="M741,998.3H761.5"/>
<path class="ed" d="M159.5,982.5V946.5H678V982.5"/><path class="ed" d="M219,985.5V956.5H610V985"/><path class="ed" d="M282,987.5V967.5H541V987.5"/><path class="ed" d="M344.5,991V977.5H472V991"/>
</g>
<g id="k-in"><rect class="io" x="94.5" y="982.5" width="20.5" height="32"/></g>
<g id="k-b1"><rect class="bk" x="138.5" y="982.5" width="21" height="32"/><rect class="mp" x="159.5" y="982.5" width="21" height="32"/></g>
<g id="k-b2"><rect class="bk" x="198" y="985.5" width="21" height="26"/><rect class="mp" x="219" y="985.5" width="21" height="26"/></g>
<g id="k-b3"><rect class="bk" x="260.5" y="987.5" width="21.5" height="21.5"/><rect class="mp" x="282" y="987.5" width="21" height="21.5"/></g>
<g id="k-b4"><rect class="bk" x="323.5" y="991" width="21" height="15"/><rect class="mp" x="344.5" y="991" width="21" height="15"/></g>
<g id="k-bb"><rect class="bb" x="396" y="992" width="20.5" height="13"/></g>
<g id="k-u1"><rect class="cv" x="450.5" y="991" width="21.5" height="15.5"/><path class="up" d="M459,991V1006.5M466.5,991V1006.5"/><rect class="bk" x="472" y="991" width="21" height="15.5"/></g>
<g id="k-u2"><rect class="cv" x="519.5" y="987.5" width="21.5" height="21.5"/><path class="up" d="M525.5,987.5V1009M535,987.5V1009"/><rect class="bk" x="541" y="987.5" width="20.5" height="21.5"/></g>
<g id="k-u3"><rect class="cv" x="588.5" y="985" width="21.5" height="26.5"/><path class="up" d="M595,985V1011.5M604.5,985V1011.5"/><rect class="bk" x="610" y="985" width="20.5" height="26.5"/></g>
<g id="k-u4"><rect class="cv" x="656.5" y="982.5" width="21.5" height="32"/><path class="up" d="M662,982.5V1014.5M671.5,982.5V1014.5"/><rect class="bk" x="678" y="982.5" width="21" height="32"/></g>
<g id="k-pp"><rect class="pp" x="719.5" y="982.5" width="21.5" height="32"/></g>
<g id="k-out"><rect class="io" x="761.5" y="982.5" width="21" height="32"/></g>
<text class="lab" x="437" y="1035">(k)</text>
</g>

<!-- (l) -->
<g id="panel-l">
<rect class="pn" x="16" y="1040" width="821.5" height="230" rx="30"/>
<g id="l-edges">
<path class="e" d="M231,1059H262"/><path class="e" d="M283.5,1059H523.5"/><path class="e" d="M544.5,1059H647.5"/><path class="e" d="M669,1059H722.5"/>
<path class="e" d="M273,1070V1086.5"/><path class="e" d="M325,1116.5H371.5"/><path class="e" d="M393,1117L523.5,1119"/><path class="e" d="M544.5,1119H582"/>
<path class="e" d="M610,1119H656.5V1070"/>
<path class="e" d="M381.5,1127.5V1142.5"/><path class="e" d="M434,1175H480"/><path class="e" d="M501.5,1175H529.5"/><path class="e" d="M551,1175H583"/>
<path class="e" d="M610,1175H663.5V1070"/>
<path class="e" d="M490.5,1186V1198.5"/><path class="e" d="M604.5,1228H627"/><path class="e" d="M658,1228H738.5V1075"/>
</g>
<g id="l-in"><rect class="io" x="209.5" y="1048.5" width="21.5" height="21.5"/></g>
<g id="l-c1"><rect class="cv" x="262" y="1048.5" width="21.5" height="21.5"/></g>
<g id="l-c2"><rect class="cv" x="523.5" y="1048.5" width="21" height="21.5"/></g>
<g id="l-c3"><rect class="cv" x="647.5" y="1048.5" width="21.5" height="21.5"/></g>
<g id="l-sum"><circle cx="738.5" cy="1059" r="16" fill="#fff" stroke="#000" stroke-width="1.2"/><path d="M722.5,1059H754.5M738.5,1043V1075" stroke="#000" stroke-width="1"/></g>
<g id="l-ds1"><rect class="bx" x="220.5" y="1086.5" width="104.5" height="59.5"/><text class="t" x="272.5" y="1096.5" font-size="8.5" text-anchor="middle">Dense feature stack</text><use href="#dense4" x="231.1" y="1107.7"/></g>
<g id="l-c4"><rect class="cv" x="371.5" y="1106" width="21.5" height="21.5"/></g>
<g id="l-c5"><rect class="cv" x="523.5" y="1108.5" width="21" height="21.5"/></g>
<g id="l-2x"><path d="M582,1113L610,1095V1143.5L582,1125.5Z" fill="#fff" stroke="#000"/><text class="t" x="593.5" y="1124" font-size="13" text-anchor="middle">2X</text></g>
<g id="l-ds2"><rect class="bx" x="330" y="1142.5" width="104" height="64"/><text class="t" x="382" y="1156.5" font-size="8.5" text-anchor="middle">Dense feature stack</text><use href="#dense4" x="339.7" y="1167.7"/></g>
<g id="l-c6"><rect class="cv" x="480" y="1164.5" width="21.5" height="21.5"/></g>
<g id="l-c7"><rect class="cv" x="529.5" y="1164.5" width="21.5" height="21.5"/></g>
<g id="l-4x"><path d="M583,1168L610,1150V1200.5L583,1182Z" fill="#fff" stroke="#000"/><text class="t" x="595" y="1180" font-size="13" text-anchor="middle">4X</text></g>
<g id="l-ds3"><rect class="bx" x="438.5" y="1198.5" width="104.5" height="62"/><text class="t" x="491" y="1208" font-size="8.5" text-anchor="middle">Dense feature stack</text><use href="#dense4" x="449.4" y="1221.7"/></g>
<g id="l-in2"><rect class="io" x="583" y="1216.5" width="21.5" height="21.5"/></g>
<g id="l-6x"><path d="M627,1220L658,1201V1255L627,1235Z" fill="#fff" stroke="#000"/><text class="t" x="643.5" y="1232.5" font-size="13" text-anchor="middle">6X</text></g>
<text class="lab" x="437" y="1287.5">(l)</text>
</g>

<!-- (m) -->
<g id="panel-m">
<rect class="pn" x="16" y="1296" width="821.5" height="166.5" rx="25"/>
<g id="m-edges">
<path class="e" d="M64,1311H83"/><path class="e" d="M126,1311H451"/><path class="e" d="M472.5,1311H747.5"/><path class="e" d="M769,1311H785"/>
<path class="e" d="M186.5,1342.7H227.5"/><path class="e" d="M269.5,1342.7H305"/><path class="e" d="M347,1342.7H436.5"/><path class="e" d="M478.5,1342.7H544.5"/><path class="e" d="M586.5,1342.7H614.5"/><path class="e" d="M656.5,1342.7H678.5"/>
<path class="e" d="M267,1374H302.5"/><path class="e" d="M344.5,1374H434"/><path class="e" d="M476,1374H542.5"/><path class="e" d="M584.5,1374H611.5"/>
<path class="e" d="M366,1405H414.5"/><path class="e" d="M498.5,1405H543"/>
<path class="eg" d="M128,1327L144.5,1342"/><path class="eg" d="M187,1355.5L204,1373"/><path class="eg" d="M266,1384L282,1404"/><path class="eg" d="M366,1406L401.5,1432"/>
<path class="eg" d="M269.5,1343L302.5,1372"/><path class="eg" d="M347,1343L434,1374"/><path class="eg" d="M344.5,1374L414.5,1405"/><path class="eg" d="M472.5,1311.5L544.5,1342.5"/><path class="eg" d="M478.5,1342.5L542.5,1373.5"/><path class="eg" d="M476,1374L543,1404.5"/><path class="eg" d="M586.5,1343L611.5,1372"/>
<path class="er" d="M267,1374L305,1342"/><path class="er" d="M347,1342.7L451,1311"/><path class="er" d="M344.5,1374L436.5,1342.5"/><path class="er" d="M366,1405L434,1374"/><path class="er" d="M476,1374L544.5,1342"/><path class="er" d="M498.5,1405L542.5,1373.5"/><path class="er" d="M506.5,1433L543,1405"/><path class="er" d="M584.5,1374L614.5,1342.5"/><path class="er" d="M585,1405L611.5,1374"/><path class="er" d="M653.5,1374L678.5,1342.5"/><path class="er" d="M720.5,1342.5L747.5,1311.5"/>
</g>
<g id="m-in"><rect class="io" x="43" y="1296" width="21" height="31"/></g>
<g id="m-c00"><rect class="cv" x="83" y="1296" width="21.5" height="31"/><rect class="cv" x="104.5" y="1296" width="21.5" height="31"/></g>
<g id="m-c01"><rect class="cv" x="451" y="1296" width="21.5" height="31"/></g>
<g id="m-c02"><rect class="cv" x="747.5" y="1296" width="21.5" height="31"/></g>
<g id="m-out"><rect class="io" x="785" y="1296" width="20.5" height="31"/></g>
<g id="m-b10"><rect class="bk" x="144.5" y="1329.5" width="21" height="26"/><rect class="bk" x="165.5" y="1329.5" width="21" height="26"/></g>
<g id="m-c11"><rect class="cv" x="227.5" y="1329.5" width="21" height="26"/><rect class="cv" x="248.5" y="1329.5" width="21" height="26"/></g>
<g id="m-c12"><rect class="cv" x="305" y="1329.5" width="21" height="26"/><rect class="cv" x="326" y="1329.5" width="21" height="26"/></g>
<g id="m-c13"><rect class="cv" x="436.5" y="1329.5" width="21" height="26"/><rect class="cv" x="457.5" y="1329.5" width="21" height="26"/></g>
<g id="m-c14"><rect class="cv" x="544.5" y="1329.5" width="21" height="26"/><rect class="cv" x="565.5" y="1329.5" width="21" height="26"/></g>
<g id="m-c15"><rect class="cv" x="614.5" y="1329.5" width="21" height="26"/><rect class="cv" x="635.5" y="1329.5" width="21" height="26"/></g>
<g id="m-c16"><rect class="cv" x="678.5" y="1329.5" width="21" height="26"/><rect class="cv" x="699.5" y="1329.5" width="21" height="26"/></g>
<g id="m-b20"><rect class="bk" x="204" y="1363.5" width="21" height="21"/><rect class="bk" x="225" y="1363.5" width="21" height="21"/><rect class="bk" x="246" y="1363.5" width="21" height="21"/></g>
<g id="m-b21"><rect class="bk" x="302.5" y="1363.5" width="21" height="21"/><rect class="bk" x="323.5" y="1363.5" width="21" height="21"/></g>
<g id="m-b22"><rect class="bk" x="434" y="1363.5" width="21" height="21"/><rect class="bk" x="455" y="1363.5" width="21" height="21"/></g>
<g id="m-b23"><rect class="bk" x="542.5" y="1363.5" width="21" height="21"/><rect class="bk" x="563.5" y="1363.5" width="21" height="21"/></g>
<g id="m-c24"><rect class="cv" x="611.5" y="1363.5" width="21" height="21"/><rect class="cv" x="632.5" y="1363.5" width="21" height="21"/></g>
<g id="m-b30"><rect class="bk" x="282" y="1397.5" width="21" height="16"/><rect class="bk" x="303" y="1397.5" width="21" height="16"/><rect class="bk" x="324" y="1397.5" width="21" height="16"/><rect class="bk" x="345" y="1397.5" width="21" height="16"/></g>
<g id="m-b31"><rect class="bk" x="414.5" y="1397.5" width="21" height="16"/><rect class="bk" x="435.5" y="1397.5" width="21" height="16"/><rect class="bk" x="456.5" y="1397.5" width="21" height="16"/><rect class="bk" x="477.5" y="1397.5" width="21" height="16"/></g>
<g id="m-c32"><rect class="cv" x="543" y="1397.5" width="21" height="16"/><rect class="cv" x="564" y="1397.5" width="21" height="16"/></g>
<g id="m-b40"><rect class="bk" x="401.5" y="1431" width="21" height="12.5"/><rect class="bk" x="422.5" y="1431" width="21" height="12.5"/><rect class="bk" x="443.5" y="1431" width="21" height="12.5"/><rect class="bk" x="464.5" y="1431" width="21" height="12.5"/><rect class="bk" x="485.5" y="1431" width="21" height="12.5"/></g>
<g id="m-legend">
<rect class="pn" x="661" y="1361" width="151" height="96.5" rx="12"/>
<path class="e" d="M684.5,1373H698.5"/><text class="t" x="702" y="1376.5" font-size="9.5">Concatenation</text>
<path class="eg" d="M684.5,1388.5H698.5"/><text class="t" x="702" y="1392" font-size="9.5">Max pooling</text>
<path class="er" d="M684.5,1404H698.5"/><text class="t" x="702" y="1407.5" font-size="9.5">Transpose convolution</text>
<rect class="bk" x="684.5" y="1424" width="22.5" height="22"/>
<text class="t" x="719" y="1440" font-size="10" text-anchor="middle">=</text>
<path class="e" d="M731,1436H744"/>
<rect class="cv" x="744" y="1425" width="21.5" height="21"/><rect class="cv" x="765.5" y="1425" width="21.5" height="21"/>
<path class="e" d="M787,1436H803"/>
<path class="arc" d="M737,1436C737,1417 750,1412 764,1412C778,1412 791,1417 791,1436"/>
</g>
<text class="lab" x="437" y="1479.5">(m)</text>
</g>

<!-- Legend -->
<g id="legend">
<g id="lg-io"><rect class="io" x="32" y="1492" width="10" height="21"/><text class="lg" x="43" y="1506">Input/Output</text></g>
<g id="lg-cv"><rect class="cv" x="116.5" y="1492" width="10" height="21"/><text class="lg" x="128.5" y="1506">Convolution</text></g>
<g id="lg-mp"><rect class="mp" x="196.5" y="1492" width="10" height="21"/><text class="lg" x="208.5" y="1506">Max Pooling</text></g>
<g id="lg-up"><rect class="cv" x="286.5" y="1492" width="10" height="21"/><path class="up" d="M289,1492V1513M293.5,1492V1513"/><text class="lg" x="297.5" y="1506">Upsampling</text></g>
<g id="lg-fc"><rect class="fc" x="365.5" y="1492" width="10" height="21"/><text class="lg" x="377" y="1506">Fully Connected</text></g>
<g id="lg-ap"><rect class="ap" x="471" y="1492" width="10" height="21"/><text class="lg" x="484" y="1506">Average Pooling</text></g>
<g id="lg-sm"><rect class="sm" x="569" y="1492" width="10" height="21"/><text class="lg" x="581.5" y="1506">Softmax</text></g>
<g id="lg-dr"><rect class="dr" x="669" y="1492" width="10" height="21"/><text class="lg" x="681" y="1506">Dropout Layer</text></g>
<g id="lg-fu"><path class="ed" d="M761,1500H782"/><text class="lg" x="795.5" y="1503.5">Fusion</text></g>
<g id="lg-pc"><rect class="pc" x="32" y="1519.5" width="10" height="21"/><text class="lg" x="43" y="1534.5">PrimaryCaps</text></g>
<g id="lg-dc"><rect class="pc" x="116.5" y="1519.5" width="10" height="21"/><path d="M116.5,1524.5H126.5M116.5,1530H126.5M116.5,1535.5H126.5" stroke="#000" stroke-width="1"/><text class="lg" x="128.5" y="1534.5">DigitCaps</text></g>
<g id="lg-cc"><rect class="cc" x="196.5" y="1519.5" width="10" height="23"/><text class="lg" x="208.5" y="1528.5">Concatenation</text><text class="lg" x="208.5" y="1541">layer</text></g>
<g id="lg-ln"><rect class="ln" x="286.5" y="1519.5" width="10" height="21"/><text class="lg" x="297.5" y="1534.5">Linear</text></g>
<g id="lg-bk"><rect class="bk" x="365.5" y="1519.5" width="10" height="21"/><text class="lg" x="377" y="1528.5">Recursive residual</text><text class="lg" x="377" y="1541">blocks</text></g>
<g id="lg-bb"><rect class="bb" x="471" y="1519.5" width="10" height="21"/><text class="lg" x="484" y="1534.5">Basic blocks</text></g>
<g id="lg-ul"><rect class="ul" x="569" y="1519.5" width="10" height="21"/><text class="lg" x="581.5" y="1534.5">Upsampling layer</text></g>
<g id="lg-pp"><rect class="pp" x="669" y="1519.5" width="10" height="21"/><text class="lg" x="681" y="1528.5">Pyramid pooling</text><text class="lg" x="681" y="1541">module</text></g>
<g id="lg-bu"><path d="M780,1508L764,1530L780,1553V1556" fill="none" stroke="#000" stroke-width="1"/><text class="lg" x="785" y="1532.5" style="font-size:9.5px">Bilinear</text><text class="lg" x="785" y="1545" style="font-size:9.5px">Upsampling</text></g>
</g>
</svg>
